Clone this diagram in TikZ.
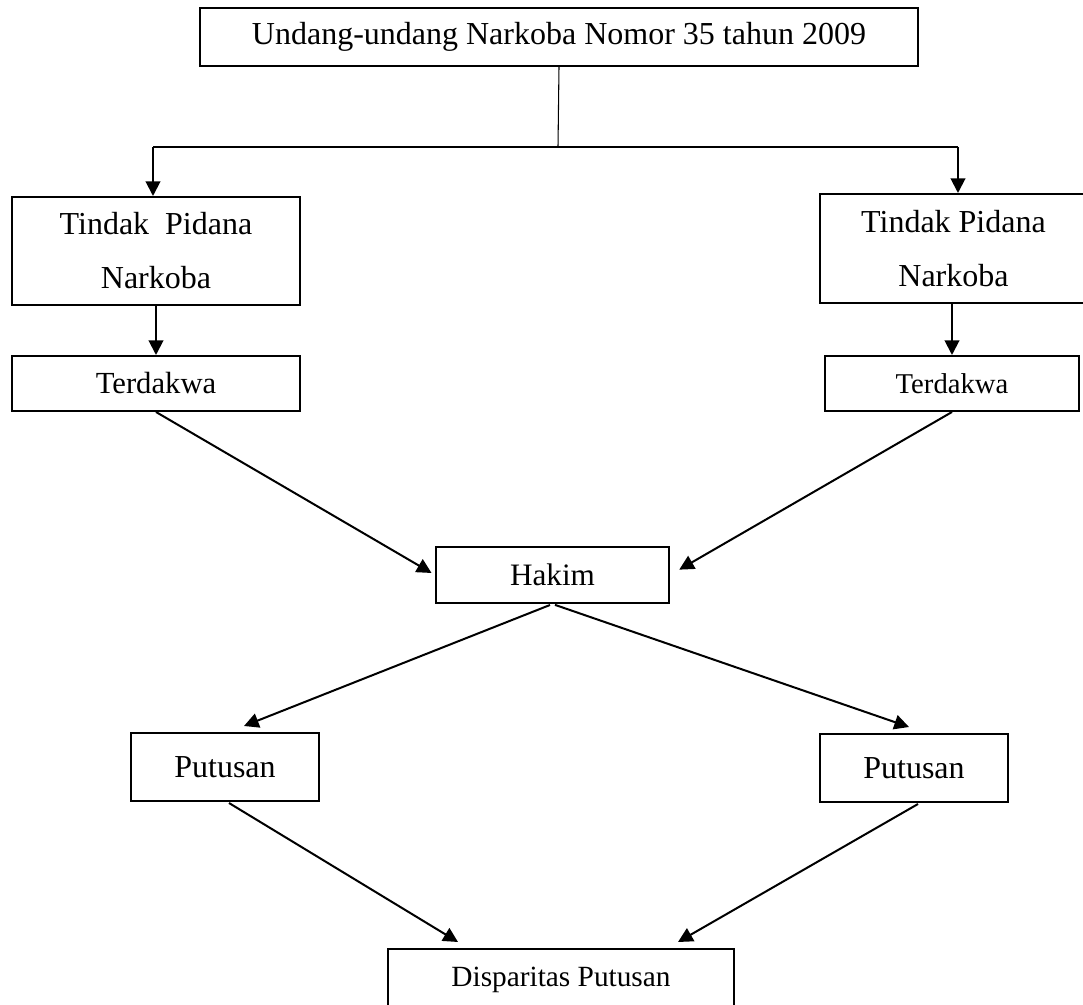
\documentclass[tikz,border=0pt]{standalone}
\usepackage{fontspec}
\setmainfont{Liberation Serif}
\usetikzlibrary{arrows.meta,calc}
\tikzset{
  box/.style={draw=black, line width=1.5pt, rectangle, inner sep=0pt, align=center, font=\fontsize{24}{40.5}\selectfont},
  conn/.style={line width=1.5pt},
  thinconn/.style={line width=0.8pt},
  arr/.style={line width=1.5pt, -{Triangle[length=11pt,width=11pt]}}
}
\begin{document}
\begin{tikzpicture}[x=0.75pt, y=-0.75pt]
\clip (0,0) rectangle (1083,1005);
\node[box, minimum width=718*0.75pt, minimum height=58*0.75pt] (top) at (559,37) {Undang-undang Narkoba Nomor 35 tahun 2009};
\node[box, minimum width=288*0.75pt, minimum height=108*0.75pt] (tpL) at (156,251) {Tindak\ \ Pidana\\Narkoba};
\node[box, minimum width=267*0.75pt, minimum height=109*0.75pt] (tpR) at (953.5,248.5) {Tindak Pidana\\Narkoba};
\node[box, minimum width=288*0.75pt, minimum height=55*0.75pt, font=\fontsize{23}{28}\selectfont] (tdL) at (156,383.5) {Terdakwa};
\node[box, minimum width=254*0.75pt, minimum height=55*0.75pt, font=\fontsize{21.5}{26}\selectfont] (tdR) at (952,383.5) {Terdakwa};
\node[box, minimum width=233*0.75pt, minimum height=56*0.75pt, font=\fontsize{23.4}{28}\selectfont] (hakim) at (552.5,575) {Hakim};
\node[box, minimum width=188*0.75pt, minimum height=68*0.75pt] (pL) at (225,767) {Putusan};
\node[box, minimum width=188*0.75pt, minimum height=68*0.75pt] (pR) at (914,768) {Putusan};
\node[box, minimum width=346*0.75pt, minimum height=61*0.75pt, font=\fontsize{22}{26}\selectfont] (disp) at (561,979.5) {Disparitas Putusan};

\coordinate (j) at (558,147);
\coordinate (jl) at (153,147);
\coordinate (jr) at (958,147);
\draw[thinconn] (top.south) -- (j);
\draw[conn] (jl) -- (jr);
\draw[arr] (jl) -- (jl |- tpL.north);
\draw[arr] (jr) -- (jr |- tpR.north);
\draw[arr] (tpL.south) -- (tdL.north);
\draw[arr] (tdR.north |- tpR.south) -- (tdR.north);
\draw[arr, shorten >=3pt] (tdL.south) -- (hakim.west);
\draw[arr, shorten >=8pt] (tdR.south) -- (hakim.east);
\draw[arr, shorten <=2pt] (hakim.south) -- ($(pL.north)+(19,-6)$);
\draw[arr, shorten <=2pt] (hakim.south) -- ($(pR.north)+(-5,-6)$);
\draw[arr] ($(pL.south)+(4,1)$) -- ($(disp.north)+(-103,-6)$);
\draw[arr] ($(pR.south)+(4,1)$) -- ($(disp.north)+(117,-6)$);
\end{tikzpicture}
\end{document}
